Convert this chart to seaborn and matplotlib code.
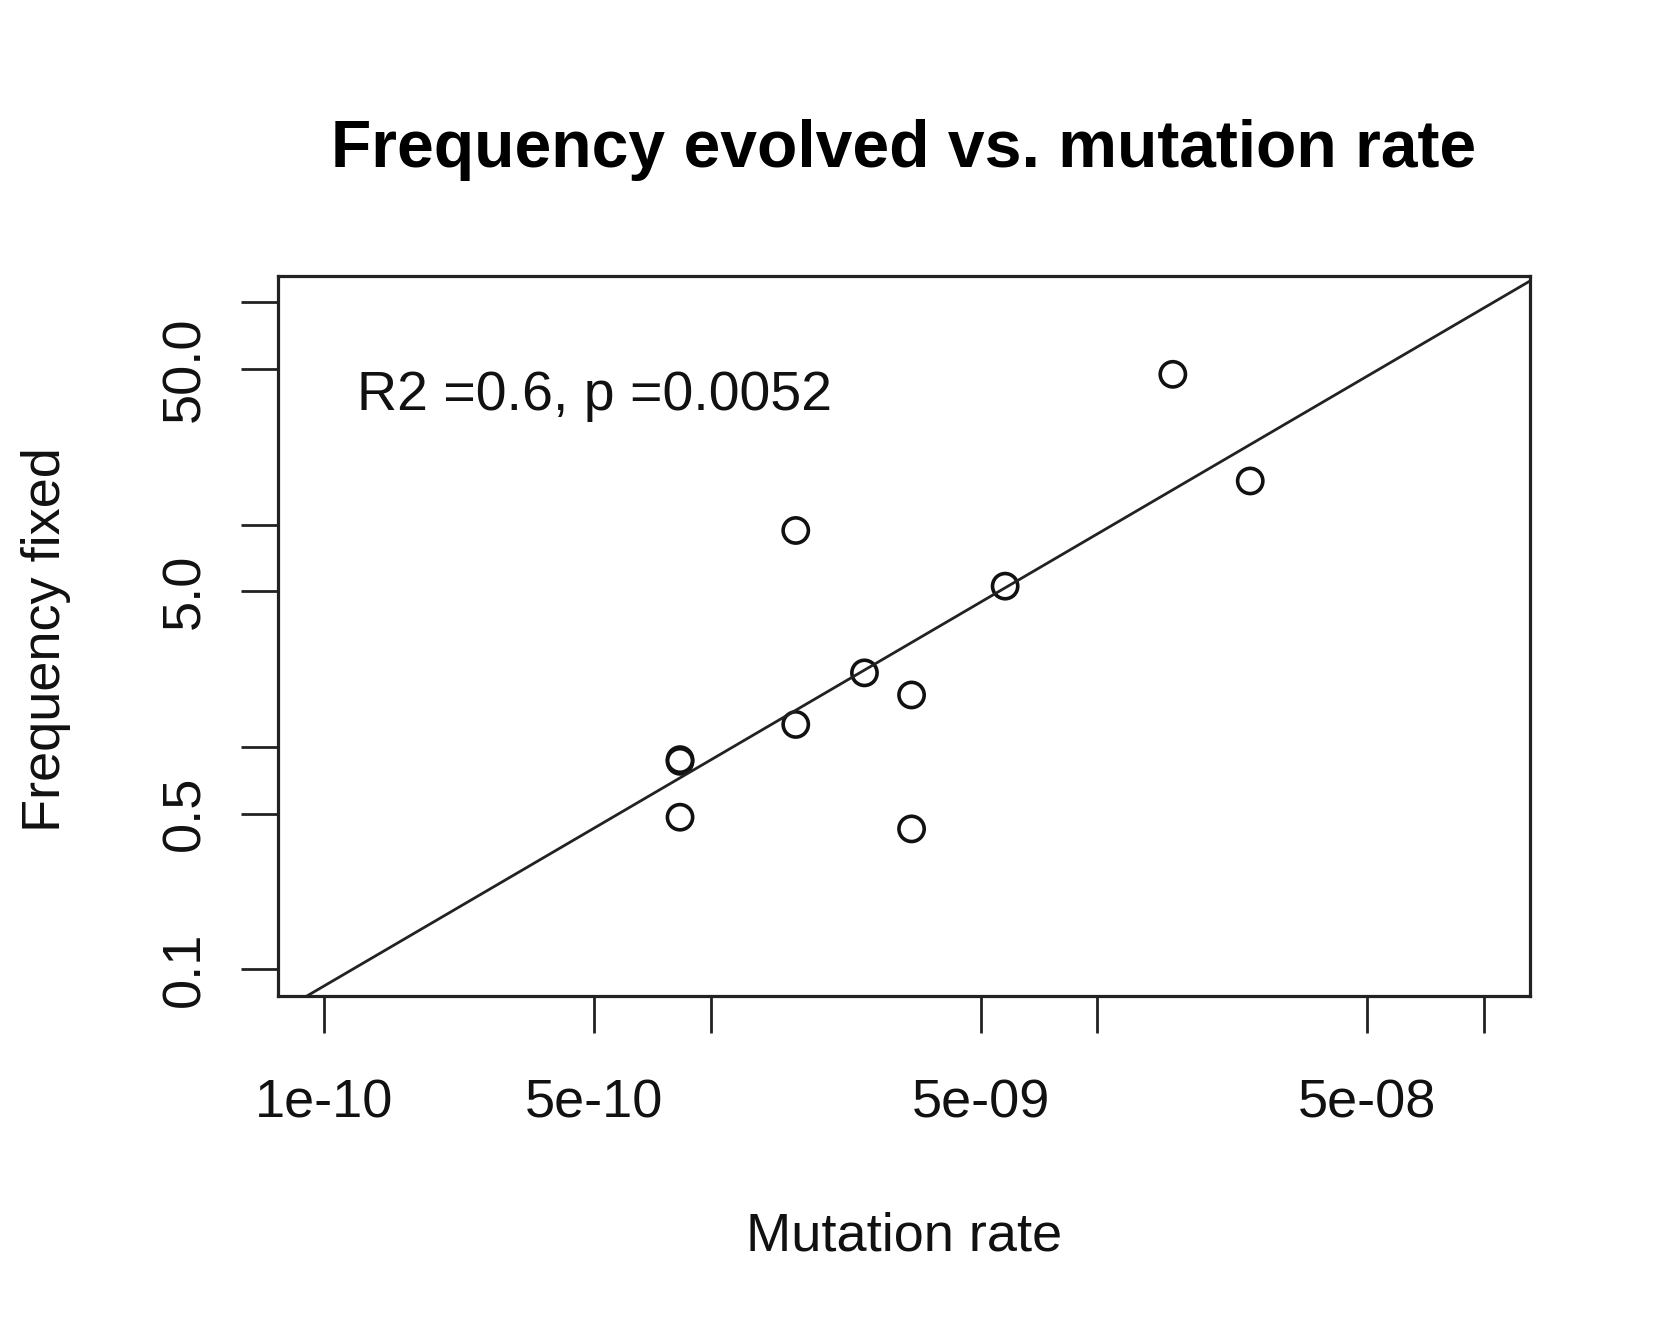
import numpy as np
import pandas as pd
import matplotlib
matplotlib.use('Agg')
import matplotlib.pyplot as plt
import seaborn as sns

# values
mutation_rate = [1.57e-8, 2.49e-8, 1.66e-9, 5.78e-9, 2.5e-9, 3.31e-9,
                 1.66e-9, 8.33e-10, 8.33e-10, 8.33e-10, 3.31e-9]
freq_fixed = [47.4, 15.7, 9.4, 5.28, 2.15, 1.71,
              1.26, 0.86, 0.875, 0.482, 0.427]

x_ticks = [1e-10, 5e-10, 1e-9, 5e-9, 1e-8, 5e-8, 1e-7]
x_tick_labels = ["1e-10", "5e-10", "", "5e-09", "", "5e-08", ""]
y_ticks = [0.1, 0.5, 1, 5, 10, 50, 100]
y_tick_labels = ["0.1", "0.5", "", "5.0", "", "50.0", ""]

df = pd.DataFrame({"mutation": mutation_rate, "freq": freq_fixed})

sns.set_style("white")
plt.rcParams['font.family'] = ['Liberation Sans', 'DejaVu Sans']

fig = plt.figure(figsize=(16.75, 13.41), dpi=100)
ax = fig.add_axes([0.1659, 0.2575, 0.7475, 0.537])
ax.set_xscale('log')
ax.set_yscale('log')

# R style limits: range plus 4% either side (in log space)
ax.set_xlim(10 ** -10.12, 10 ** -6.88)
ax.set_ylim(10 ** -1.12, 10 ** 2.12)

sns.scatterplot(data=df, x="mutation", y="freq", ax=ax, marker='o', s=330,
                facecolor='none', edgecolor='#111111', linewidth=2.6)

# log-log least squares line
b1, b0 = np.polyfit(np.log10(df["mutation"]), np.log10(df["freq"]), 1)
xs = np.logspace(-10.2, -6.8, 50)
ax.plot(xs, 10 ** (b0 + b1 * np.log10(xs)), color='#222222', lw=2.0)

ax.text(0.063, 0.813, "R2 =0.6, p =0.0052", transform=ax.transAxes,
        fontsize=40, ha='left', va='baseline', color='#111111')

ax.set_xticks(x_ticks)
ax.set_xticklabels(x_tick_labels)
ax.set_yticks(y_ticks)
ax.set_yticklabels(y_tick_labels)
ax.minorticks_off()
ax.tick_params(axis='both', direction='out', length=26.6, width=2.0,
               color='#222222', labelsize=39, labelcolor='#111111',
               left=True, bottom=True)
ax.tick_params(axis='x', pad=33)
ax.tick_params(axis='y', pad=22)
plt.setp(ax.get_yticklabels(), rotation=90, va='center')

for sp in ax.spines.values():
    sp.set_color('#222222')
    sp.set_linewidth(2.3)

ax.set_xlabel("Mutation rate", fontsize=39, color='#111111')
ax.set_ylabel("Frequency fixed", fontsize=39, color='#111111')
ax.xaxis.set_label_coords(0.5, -0.30)
ax.yaxis.set_label_coords(-0.165, 0.495)

ax.set_title("Frequency evolved vs. mutation rate", fontsize=47.5,
             fontweight='bold', pad=78, color='#000000')

plt.savefig("out.png", dpi=100)
plt.close()
